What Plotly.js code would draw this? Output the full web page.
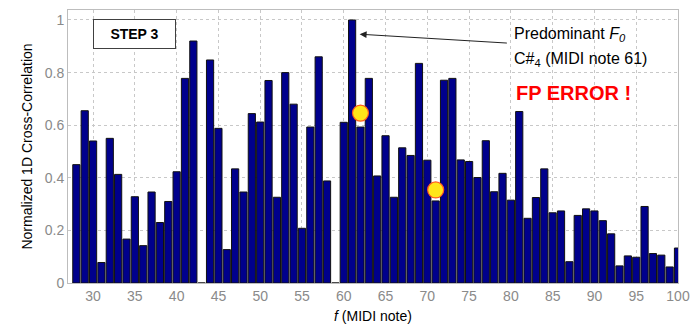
<!DOCTYPE html>
<html>
<head>
<meta charset="utf-8">
<script src="https://cdn.plot.ly/plotly-3.0.1.min.js"></script>
<style>
  html, body { margin: 0; padding: 0; background: #fff; }
  #chart { width: 692px; height: 329px; }
</style>
</head>
<body>
<div id="chart"></div>
<script>
// MIDI notes and their normalized 1D cross-correlation values (43 and 59 are empty)
const midiNotes = [28, 29, 30, 31, 32, 33, 34, 35, 36, 37, 38, 39, 40, 41, 42, 43, 44, 45, 46, 47,
  48, 49, 50, 51, 52, 53, 54, 55, 56, 57, 58, 59, 60, 61, 62, 63, 64, 65, 66, 67,
  68, 69, 70, 71, 72, 73, 74, 75, 76, 77, 78, 79, 80, 81, 82, 83, 84, 85, 86, 87,
  88, 89, 90, 91, 92, 93, 94, 95, 96, 97, 98, 99, 100];
const correlation = [0.45, 0.655, 0.54, 0.078, 0.55, 0.413, 0.167, 0.328, 0.142, 0.346, 0.23, 0.31, 0.423, 0.778, 0.92, 0, 0.848, 0.588, 0.127, 0.434,
  0.346, 0.644, 0.612, 0.77, 0.326, 0.8, 0.68, 0.208, 0.593, 0.86, 0.388, 0, 0.611, 1.0, 0.593, 0.778, 0.407, 0.56, 0.326, 0.514,
  0.485, 0.835, 0.467, 0.312, 0.771, 0.778, 0.468, 0.462, 0.401, 0.541, 0.347, 0.417, 0.315, 0.652, 0.246, 0.325, 0.434, 0.267, 0.274, 0.081,
  0.257, 0.282, 0.274, 0.237, 0.187, 0.065, 0.103, 0.098, 0.291, 0.112, 0.106, 0.061, 0.133];

// Highlighted candidate points
const markNotes = [62, 71];
const markValues = [0.646, 0.354];

const xTicks = [30, 35, 40, 45, 50, 55, 60, 65, 70, 75, 80, 85, 90, 95, 100];
const yTicks = [0, 0.2, 0.4, 0.6, 0.8, 1];
const yTickText = ['0', '0.2', '0.4', '0.6', '0.8', '1'];

const bars = {
  type: 'bar',
  x: midiNotes,
  y: correlation,
  width: 0.86,
  marker: { color: '#00008c', line: { color: '#111111', width: 1 } },
  hoverinfo: 'x+y'
};

const marks = {
  type: 'scatter',
  mode: 'markers',
  x: markNotes,
  y: markValues,
  marker: { size: 16, color: '#ffe619', line: { color: '#ff5a1e', width: 1.2 } },
  hoverinfo: 'x+y'
};

const FONT = 'Liberation Sans, Arial, sans-serif';
const tickFont = { family: FONT, size: 14, color: '#8a8a8a' };

const layout = {
  width: 692,
  height: 329,
  margin: { l: 68, r: 14, t: 10, b: 46 },
  paper_bgcolor: '#ffffff',
  plot_bgcolor: '#ffffff',
  showlegend: false,
  bargap: 0,
  xaxis: {
    range: [27, 100],
    tickvals: xTicks,
    ticktext: xTicks.map(String),
    tickfont: tickFont,
    ticks: '',
    showgrid: true,
    gridcolor: '#c8c8c8',
    griddash: 'dot',
    gridwidth: 1,
    zeroline: false,
    showline: true,
    mirror: true,
    linecolor: '#bdbdbd',
    linewidth: 1,
    title: {
      text: '<i>f</i> (MIDI note)',
      font: { family: FONT, size: 14, color: '#000' },
      standoff: 8
    }
  },
  yaxis: {
    range: [0, 1.038],
    tickvals: yTicks,
    ticktext: yTickText,
    tickfont: tickFont,
    ticks: '',
    showgrid: true,
    gridcolor: '#c8c8c8',
    griddash: 'dot',
    gridwidth: 1,
    zeroline: true,
    zerolinecolor: '#000000',
    zerolinewidth: 1,
    showline: true,
    mirror: true,
    linecolor: '#bdbdbd',
    linewidth: 1,
    title: {
      text: 'Normalized 1D Cross-Correlation',
      font: { family: FONT, size: 14, color: '#000' },
      standoff: 8
    }
  },
  annotations: [
    {
      x: 35, y: 0.946, xref: 'x', yref: 'y',
      text: '<b>STEP 3</b>',
      showarrow: false,
      font: { family: FONT, size: 14, color: '#000' },
      bgcolor: '#ffffff',
      bordercolor: '#404040',
      borderwidth: 1,
      borderpad: 0,
      width: 81,
      height: 28,
      xanchor: 'center', yanchor: 'middle'
    },
    {
      x: 61.9, y: 0.946, xref: 'x', yref: 'y',
      ax: 79.7, ay: 0.912, axref: 'x', ayref: 'y',
      text: '',
      showarrow: true,
      arrowhead: 2,
      arrowsize: 1.4,
      arrowwidth: 1,
      arrowcolor: '#222222'
    },
    {
      x: 80.1, y: 0.945, xref: 'x', yref: 'y',
      text: 'Predominant <i>F</i><sub><i>0</i></sub>',
      showarrow: false,
      xanchor: 'left', yanchor: 'middle',
      font: { family: FONT, size: 16, color: '#000' }
    },
    {
      x: 80.1, y: 0.85, xref: 'x', yref: 'y',
      text: 'C#<sub>4</sub> (MIDI note 61)',
      showarrow: false,
      xanchor: 'left', yanchor: 'middle',
      font: { family: FONT, size: 16, color: '#000' }
    },
    {
      x: 80.4, y: 0.723, xref: 'x', yref: 'y',
      text: '<b>FP ERROR !</b>',
      showarrow: false,
      xanchor: 'left', yanchor: 'middle',
      font: { family: FONT, size: 20, color: '#ff0000' }
    }
  ]
};

Plotly.newPlot('chart', [bars, marks], layout, { displayModeBar: false, staticPlot: true });
</script>
</body>
</html>
